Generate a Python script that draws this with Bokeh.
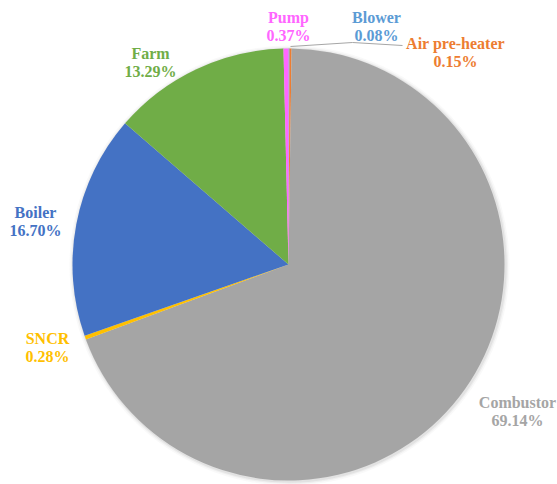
import numpy as np
from bokeh.plotting import figure
from bokeh.models import ColumnDataSource, Range1d
from bokeh.core.properties import value
from bokeh.embed import file_html
from bokeh.resources import INLINE

# ---- data (clockwise from 12 o'clock) ----
categories = ["Blower", "Air pre-heater", "Combustor", "SNCR", "Boiler", "Farm", "Pump"]
shares = [0.08, 0.15, 69.14, 0.28, 16.70, 13.29, 0.37]
pct_labels = ["0.08%", "0.15%", "69.14%", "0.28%", "16.70%", "13.29%", "0.37%"]

# ---- styles / layout ----
colors = ["#5B9BD5", "#ED7D31", "#A5A5A5", "#FFC000", "#4472C4", "#70AD47", "#FF66FF"]
label_colors = ["#5B9BD5", "#ED7D31", "#A5A5A5", "#FFC000", "#4472C4", "#70AD47", "#FF66FF"]
# label centres in page pixels (x, y from top)
label_pos = [(376, 17), (455, 43), (517, 402), (47, 338), (35, 212), (150, 53), (288, 17)]

W, H = 557, 484
CX, CY, R = 288, 264, 216

p = figure(width=W, height=H, output_backend="svg", toolbar_location=None,
           x_range=Range1d(0, W), y_range=Range1d(0, H), min_border=0)
p.axis.visible = False
p.grid.visible = False
p.outline_line_color = None
p.background_fill_color = "white"
p.border_fill_color = "white"

vals = np.array(shares, dtype=float)
frac = vals / vals.sum()
cum = np.concatenate([[0], np.cumsum(frac)])
start = np.pi / 2 - 2 * np.pi * cum[:-1]
end = np.pi / 2 - 2 * np.pi * cum[1:]

# soft shadow
for dr, a in [(4, 0.05), (2.5, 0.08), (1.2, 0.12)]:
    p.circle(x=[CX + 1], y=[H - CY - 1], radius=R + dr, fill_color="#808080",
             fill_alpha=a, line_color=None)

src = ColumnDataSource(dict(start=start, end=end, color=colors, cat=categories))
p.wedge(x=CX, y=H - CY, radius=R, start_angle="start", end_angle="end",
        direction="clock", fill_color="color", line_color=None, source=src)

# leader line for Blower
p.line(x=[290, 352, 402], y=[H - 46, H - 42, H - 45], line_color="#A6A6A6", line_width=1)

lx = [pp[0] for pp in label_pos]
ly = [H - pp[1] for pp in label_pos]
tsrc = ColumnDataSource(dict(x=lx, y1=ly, y2=[y - 18 for y in ly],
                             name=categories, pct=pct_labels, color=label_colors))
font = value("Liberation Serif")
for col, ycol in [("name", "y1"), ("pct", "y2")]:
    p.text(x="x", y=ycol, text=col, source=tsrc, text_color="color",
           text_font=font, text_font_style="bold",
           text_font_size="16px", text_align="center", text_baseline="middle")

open("out.html", "w").write(file_html(p, INLINE))
